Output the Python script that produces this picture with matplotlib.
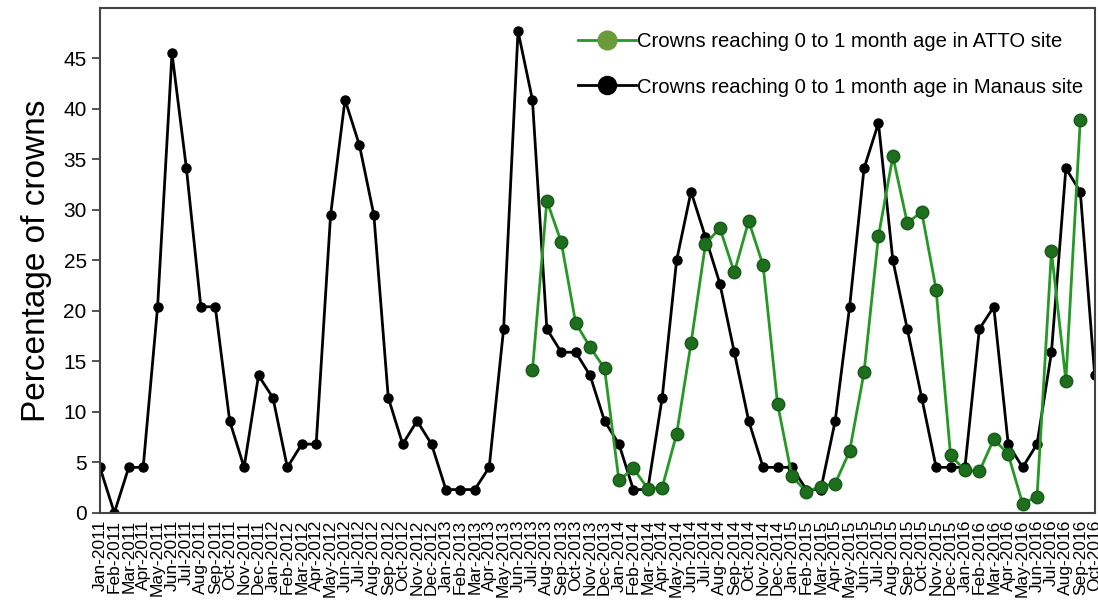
import matplotlib
matplotlib.use("Agg")
import matplotlib.pyplot as plt
from matplotlib.legend_handler import HandlerLine2D
from matplotlib.lines import Line2D
import numpy as np

plt.rcParams['font.family'] = ['Liberation Sans', 'DejaVu Sans']

months = ["Jan", "Feb", "Mar", "Apr", "May", "Jun",
          "Jul", "Aug", "Sep", "Oct", "Nov", "Dec"]
labels = [f"{m}-{y}" for y in range(2011, 2017) for m in months][:70]

# Manaus site, Jan-2011 .. Oct-2016
manaus = [4.5, 0.0, 4.5, 4.5, 20.4, 45.5, 34.1, 20.4, 20.4, 9.1, 4.5, 13.6,
          11.4, 4.5, 6.8, 6.8, 29.5, 40.9, 36.4, 29.5, 11.4, 6.8, 9.1, 6.8,
          2.3, 2.3, 2.3, 4.5, 18.2, 47.7, 40.9, 18.2, 15.9, 15.9, 13.6, 9.1,
          6.8, 2.3, 2.3, 11.4, 25.0, 31.8, 27.3, 22.7, 15.9, 9.1, 4.5, 4.5,
          4.5, 2.3, 2.3, 9.1, 20.4, 34.1, 38.6, 25.0, 18.2, 11.4, 4.5, 4.5,
          4.5, 18.2, 20.4, 6.8, 4.5, 6.8, 15.9, 34.1, 31.8, 13.6]

# ATTO site, Jul-2013 .. Sep-2016
atto_start = 30
atto = [14.1, 30.9, 26.8, 18.8, 16.4, 14.3,
        3.2, 4.4, 2.4, 2.5, 7.8, 16.8, 26.6, 28.2, 23.8, 28.9, 24.5, 10.8,
        3.6, 2.1, 2.6, 2.9, 6.1, 13.9, 27.4, 35.3, 28.7, 29.8, 22.1, 5.7,
        4.2, 4.1, 7.3, 5.8, 0.9, 1.6, 25.9, 13.1, 38.9]


class LeftMarkerHandler(HandlerLine2D):
    # put the legend marker at the left end of the line
    def get_xdata(self, legend, xdescent, ydescent, width, height, fontsize):
        xdata, _ = super().get_xdata(legend, xdescent, ydescent,
                                     width, height, fontsize)
        return xdata, [xdata[0]]


x = np.arange(len(labels))
x_atto = np.arange(atto_start, atto_start + len(atto))

fig = plt.figure(figsize=(10.98, 6.04), dpi=100)
ax = fig.add_axes([0.091, 0.151, 0.906, 0.836])

ax.plot(x_atto, atto, color="#249a24", lw=2, marker="o", ms=9,
        mfc="#1d6e1d", mec="#185a18", zorder=3,
        label="Crowns reaching 0 to 1 month age in ATTO site")
ax.plot(x, manaus, color="black", lw=2, marker="o", ms=6.5, zorder=2,
        label="Crowns reaching 0 to 1 month age in Manaus site")

ax.set_xlim(0, len(labels) - 1)
ax.set_ylim(0, 50)
ax.set_yticks(range(0, 50, 5))
ax.set_xticks(x)
ax.set_xticklabels(labels, rotation=90, fontsize=12.5)
ax.tick_params(axis="y", labelsize=15, length=6, width=1.3, color="#444444")
ax.tick_params(axis="x", length=0, pad=5)
ax.set_ylabel("Percentage of crowns", fontsize=24, labelpad=8)
for sp in ax.spines.values():
    sp.set_color("#444444")
    sp.set_linewidth(1.5)

leg = ax.legend(loc="upper right", bbox_to_anchor=(1.003, 0.98),
                frameon=False, fontsize=14.6,
                handlelength=2.9, handletextpad=0.05, labelspacing=1.3,
                borderaxespad=0.3, markerscale=1.5,
                handler_map={Line2D: LeftMarkerHandler(numpoints=1)})
leg.legend_handles[0].set_markerfacecolor("#6a9a3a")
leg.legend_handles[0].set_markeredgecolor("#6a9a3a")
leg.legend_handles[1].set_markersize(13)

fig.savefig("out.png", dpi=100)
